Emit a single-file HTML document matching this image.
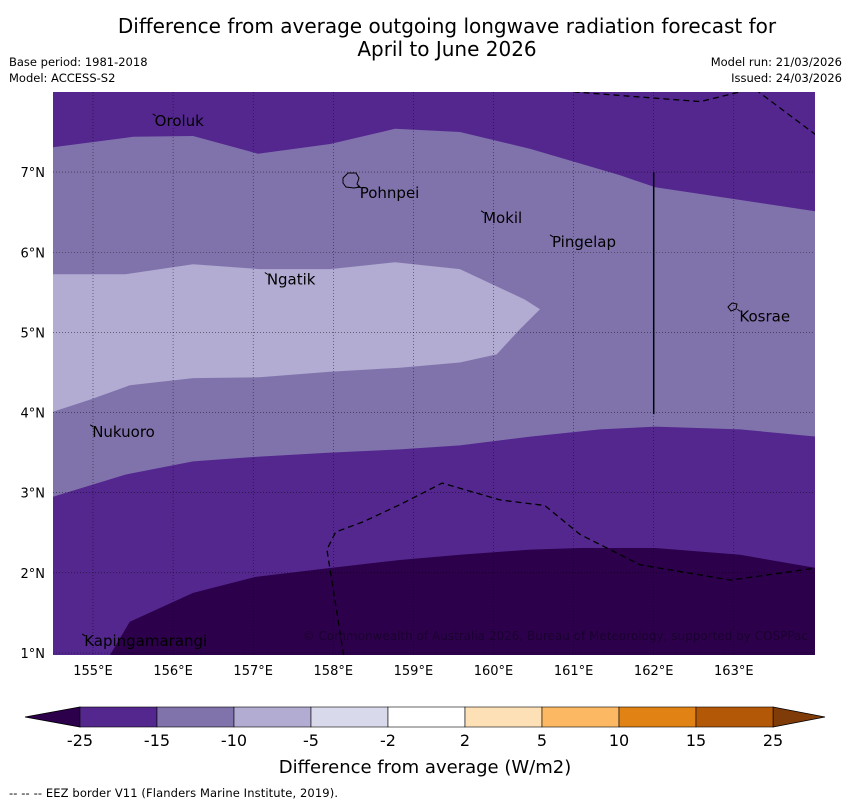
<!DOCTYPE html>
<html><head><meta charset="utf-8"><style>
body{margin:0;background:#fff;width:850px;height:804px;overflow:hidden;font-family:"DejaVu Sans","Liberation Sans",sans-serif}
svg{display:block}
</style></head><body>
<svg id="chart" width="850" height="804" xmlns="http://www.w3.org/2000/svg">
<text x="447" y="33" text-anchor="middle" font-size="20">Difference from average outgoing longwave radiation forecast for</text>
<text x="447" y="56" text-anchor="middle" font-size="20">April to June 2026</text>
<text x="9" y="66" font-size="11.5">Base period: 1981-2018</text>
<text x="9" y="82" font-size="11.5">Model: ACCESS-S2</text>
<text x="842" y="66" font-size="11.5" text-anchor="end">Model run: 21/03/2026</text>
<text x="842" y="82" font-size="11.5" text-anchor="end">Issued: 24/03/2026</text>
<g id="map"></g>
<g id="cbar"></g>
<text x="425" y="773" text-anchor="middle" font-size="18">Difference from average (W/m2)</text>
<text x="9" y="797" font-size="11.5" textLength="329">--  --  -- EEZ border V11 (Flanders Marine Institute, 2019).</text>
</svg>
<script>
const lonTicks=[155,156,157,158,159,160,161,162,163];
const latTicks=[1,2,3,4,5,6,7];
const topBoundLon=[154.5,155.5,156.25,157.06,157.96,158.77,159.58,160.46,161.58,162.02,164.03];
const topBoundLat=[7.31,7.44,7.45,7.23,7.35,7.54,7.5,7.29,6.96,6.81,6.51];
const lightLon=[154.5,155.4,156.25,157.08,157.96,158.77,159.58,160.39,160.58,160.33,160.04,159.58,158.83,157.96,157.08,156.25,155.46,154.96,154.5];
const lightLat=[5.725,5.725,5.85,5.79,5.79,5.875,5.79,5.41,5.29,5.04,4.725,4.625,4.56,4.51,4.44,4.43,4.34,4.16,4.01];
const lowBoundLon=[154.5,155.4,156.25,157.08,157.96,158.83,159.58,160.46,161.33,162.02,163.08,164.03];
const lowBoundLat=[2.95,3.225,3.39,3.45,3.5,3.54,3.59,3.7,3.79,3.825,3.79,3.7];
const darkLon=[155.21,155.46,156.25,157.03,157.96,158.83,159.58,160.46,161.08,162.02,163.08,164.03];
const darkLat=[0.97,1.39,1.75,1.95,2.06,2.16,2.225,2.29,2.31,2.31,2.225,2.06];
const eezTopLon=[161.0,162.58,163.2,163.4];
const eezTopLat=[8.0,7.88,8.03,8.03];
const eezTop2Lon=[163.27,164.03];
const eezTop2Lat=[8.03,7.46];
const eezLowLon=[158.13,158.0,157.92,158.03,158.38,158.83,159.36,160.08,160.64,161.08,161.83,162.96,164.03];
const eezLowLat=[0.97,1.79,2.29,2.51,2.64,2.85,3.12,2.91,2.84,2.48,2.1,1.91,2.06];
const cbLevels=["-25","-15","-10","-5","-2","2","5","10","15","25"];
const cbColors=["#54278f","#8073ac","#b2abd2","#d8daeb","#ffffff","#fee0b6","#fdb863","#e08214","#b35806"];
const places=[["Oroluk",155.77,7.64],["Pohnpei",158.33,6.74],["Mokil",159.87,6.43],["Pingelap",160.73,6.13],["Ngatik",157.17,5.66],["Kosrae",163.07,5.2],["Nukuoro",154.99,3.76],["Kapingamarangi",154.89,1.15]];

const NS="http://www.w3.org/2000/svg";
const X0=53,X1=815,Y0=92,Y1=655;
const X=lon=>93+(lon-155)*80.1;
const Y=lat=>653-(lat-1)*80.15;
const map=document.getElementById('map');
function mk(tag,attrs,parent){const e=document.createElementNS(NS,tag);for(const k in attrs)e.setAttribute(k,attrs[k]);(parent||map).appendChild(e);return e;}
function pts(lo,la){return lo.map((v,i)=>X(v).toFixed(1)+','+Y(la[i]).toFixed(1));}
const cp=mk('clipPath',{id:'mclip'});mk('rect',{x:X0,y:Y0,width:X1-X0,height:Y1-Y0},cp);
const g=mk('g',{'clip-path':'url(#mclip)'});
let r=mk('rect',{x:X0,y:Y0,width:X1-X0,height:Y1-Y0,fill:'#54278f'},g);


let p=mk('polygon',{points:pts(topBoundLon,topBoundLat).concat(pts(lowBoundLon.slice().reverse(),lowBoundLat.slice().reverse())).join(' '),fill:'#8073ac'},g);


p=mk('polygon',{points:pts(lightLon,lightLat).join(' '),fill:'#b2abd2'},g);


p=mk('polygon',{points:pts(darkLon,darkLat).join(' ')+' '+X1+','+(Y1+2),fill:'#2d004b'},g);


lonTicks.forEach(l=>{const x=X(l);
 let ln=mk('line',{x1:x,x2:x,y1:Y0,y2:Y1,stroke:'#000','stroke-width':0.6,'stroke-dasharray':'1,2',opacity:0.7},g);
 
 
 let t=mk('text',{x:x,y:675,'text-anchor':'middle','font-size':13});t.textContent=l+'°E';
 
 });
latTicks.forEach(l=>{const y=Y(l);
 let ln=mk('line',{x1:X0,x2:X1,y1:y,y2:y,stroke:'#000','stroke-width':0.6,'stroke-dasharray':'1,2',opacity:0.7},g);
 
 
 let t=mk('text',{x:45,y:y+5,'text-anchor':'end','font-size':13});t.textContent=l+'°N';
 
 });
[[eezTopLon,eezTopLat],[eezTop2Lon,eezTop2Lat],[eezLowLon,eezLowLat]].forEach(a=>{
 let pl=mk('polyline',{points:pts(a[0],a[1]).join(' '),fill:'none',stroke:'#000','stroke-width':1.3,'stroke-dasharray':'6,4'},g);
 
 });
let v=mk('line',{x1:X(162),x2:X(162),y1:Y(7),y2:Y(3.98),stroke:'#000','stroke-width':1.5},g);


let is1=mk('path',{d:'M343,178 l5,-5 l8,0 l3,5 l-2,6 l3,3 l-6,1 l-8,-1 l-3,-4z',fill:'none',stroke:'#000','stroke-width':1},g);


let is2=mk('path',{d:'M728,307 l4,-4 l5,1 l-1,5 l-5,2z',fill:'none',stroke:'#000','stroke-width':1},g);


places.forEach(pl=>{
 let t=mk('text',{x:X(pl[1]),y:Y(pl[2])+5,'font-size':15},g);t.textContent=pl[0];
 
 
 let m=mk('line',{x1:X(pl[1])-2,y1:Y(pl[2])-7,x2:X(pl[1])+1,y2:Y(pl[2])-5,stroke:'#000','stroke-width':1},g);
 
 });
let cr=mk('text',{x:808,y:640,'text-anchor':'end','font-size':12,fill:'#1a0030'},g);
cr.textContent='© Commonwealth of Australia 2026, Bureau of Meteorology, supported by COSPPac';


const cb=document.getElementById('cbar');
const cx0=80,cw=77,cy=707,ch=20;
let tl=mk('polygon',{points:`25,717 ${cx0},${cy} ${cx0},${cy+ch}`,fill:'#2d004b',stroke:'#000','stroke-width':0.8},cb);


let tr=mk('polygon',{points:`${cx0+9*cw},${cy} 825,717 ${cx0+9*cw},${cy+ch}`,fill:'#7f3b08',stroke:'#000','stroke-width':0.8},cb);


cbColors.forEach((c,i)=>{
 let b=mk('rect',{x:cx0+i*cw,y:cy,width:cw,height:ch,fill:c,stroke:'#000','stroke-width':0.6},cb);
 
 });
cbLevels.forEach((s,i)=>{
 let t=mk('text',{x:cx0+i*cw,y:746,'text-anchor':'middle','font-size':16},cb);t.textContent=s;
 
 });
</script>
</body></html>
